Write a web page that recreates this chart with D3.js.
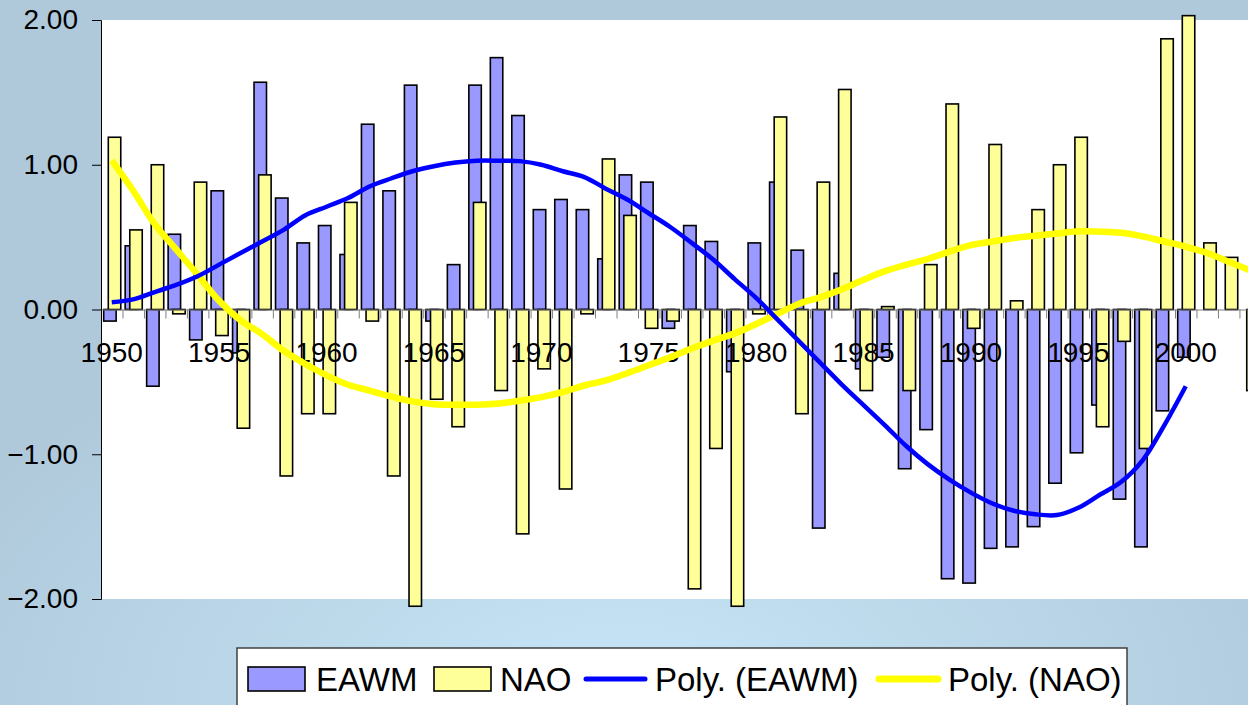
<!DOCTYPE html>
<html lang="en">
<head>
    <meta charset="UTF-8">
    <title>EAWM and NAO</title>
    <script src="https://cdn.jsdelivr.net/npm/d3@7/dist/d3.min.js"></script>
    <style>
        body { margin: 0; }
        svg { display: block; font-family: "Liberation Sans", Arial, sans-serif; }
        .axis text { font-size: 28px; fill: #000; }
        .legend text { font-size: 33px; fill: #000; }
    </style>
</head>
<body>
<svg id="chart"></svg>
<script>
// categories (years) and series values
const years = d3.range(1950, 2004);
const eawm = [-0.08, 0.44, -0.53, 0.52, -0.21, 0.82, -0.30, 1.57, 0.77, 0.46,
              0.58, 0.38, 1.28, 0.82, 1.55, -0.08, 0.31, 1.55, 1.74, 1.34,
              0.69, 0.76, 0.69, 0.35, 0.93, 0.88, -0.13, 0.58, 0.47, -0.43,
              0.46, 0.88, 0.41, -1.51, 0.25, -0.41, -0.33, -1.10, -0.83, -1.86,
              -1.89, -1.65, -1.64, -1.50, -1.20, -0.99, -0.66, -1.31, -1.64, -0.70,
              -0.33, null, null, null];
const nao = [1.19, 0.55, 1.00, -0.03, 0.88, -0.18, -0.82, 0.93, -1.15, -0.72,
             -0.72, 0.74, -0.08, -1.15, -2.05, -0.62, -0.81, 0.74, -0.56, -1.55,
             -0.41, -1.24, -0.03, 1.04, 0.65, -0.13, -0.08, -1.93, -0.96, -2.05,
             -0.03, 1.33, -0.72, 0.88, 1.52, -0.56, 0.02, -0.56, 0.31, 1.42,
             -0.13, 1.14, 0.06, 0.69, 1.00, 1.19, -0.81, -0.22, -0.96, 1.87,
             2.03, 0.46, 0.36, -0.56];
// polynomial trend lines at each year
const eawmTrend = [0.05, 0.07, 0.12, 0.17, 0.23, 0.31, 0.39, 0.47, 0.55, 0.65,
                   0.71, 0.77, 0.85, 0.905, 0.955, 0.99, 1.015, 1.028, 1.028, 1.025,
                   1.0, 0.955, 0.915, 0.835, 0.76, 0.665, 0.57, 0.46, 0.345, 0.21,
                   0.08, -0.07, -0.22, -0.37, -0.52, -0.66, -0.80, -0.945, -1.07, -1.175,
                   -1.265, -1.34, -1.39, -1.415, -1.42, -1.37, -1.28, -1.19, -1.04, -0.80,
                   -0.53];
const naoTrend = [1.03, 0.82, 0.59, 0.415, 0.24, 0.06, -0.075, -0.17, -0.285, -0.375,
                  -0.455, -0.52, -0.56, -0.60, -0.635, -0.655, -0.658, -0.658, -0.65, -0.63,
                  -0.605, -0.57, -0.525, -0.49, -0.44, -0.385, -0.33, -0.27, -0.215, -0.165,
                  -0.10, -0.03, 0.04, 0.085, 0.14, 0.205, 0.265, 0.31, 0.35, 0.40,
                  0.445, 0.47, 0.494, 0.51, 0.525, 0.54, 0.538, 0.53, 0.505, 0.47,
                  0.435, 0.39, 0.33, 0.27];
const yTicks = [-2, -1, 0, 1, 2];
const legendItems = ["EAWM", "NAO", "Poly. (EAWM)", "Poly. (NAO)"];

const W = 1248, H = 705;
const plot = { left: 101, top: 20, bottom: 599 };
const step = 21.48;

const svg = d3.select("#chart").attr("width", W).attr("height", H);

// background
const defs = svg.append("defs");
const grad = defs.append("radialGradient").attr("id", "bg")
    .attr("cx", "50%").attr("cy", "100%").attr("r", "60%");
grad.append("stop").attr("offset", "0%").attr("stop-color", "#c7e6f7");
grad.append("stop").attr("offset", "100%").attr("stop-color", "#afc9db");
svg.append("rect").attr("width", W).attr("height", H).attr("fill", "url(#bg)");
svg.append("rect")
    .attr("x", plot.left).attr("y", plot.top)
    .attr("width", W - plot.left).attr("height", plot.bottom - plot.top)
    .attr("fill", "#fff");

// scales
const x = d3.scaleBand()
    .domain(years)
    .range([plot.left, plot.left + step * years.length])
    .padding(0);
const xEdge = d3.scaleLinear()
    .domain([years[0], years[years.length - 1] + 1])
    .range([plot.left, plot.left + step * years.length]);
const y = d3.scaleLinear().domain([-2, 2]).range([plot.bottom, plot.top]);

const bw = x.bandwidth();
const barW = bw * 0.58;

function drawBars(values, cls, fill, offset) {
    svg.append("g").attr("class", cls)
        .selectAll("rect")
        .data(years.map((yr, i) => ({ yr, v: values[i] })).filter(d => d.v != null))
        .enter().append("rect")
        .attr("x", d => x(d.yr) + bw * offset)
        .attr("width", barW)
        .attr("y", d => y(Math.max(0, d.v)))
        .attr("height", d => Math.abs(y(d.v) - y(0)))
        .attr("fill", fill)
        .attr("stroke", "#000")
        .attr("stroke-width", 1.6);
}
drawBars(eawm, "eawm", "#9999ff", 0.125);
drawBars(nao, "nao", "#ffff99", 0.34);

// x axis: line and ticks at category edges, labels every 5 years
const xAxisG = svg.append("g").attr("class", "axis")
    .attr("transform", "translate(0," + y(0) + ")");
xAxisG.append("g")
    .call(d3.axisBottom(xEdge).tickValues(d3.range(1950, 2005)).tickSize(9).tickFormat(""))
    .call(g => g.selectAll("line").attr("stroke", "#808080"))
    .call(g => g.select(".domain").attr("stroke", "#808080"));
xAxisG.append("g")
    .call(d3.axisBottom(x).tickValues(years.filter(d => d % 5 === 0)).tickSize(0).tickPadding(33))
    .call(g => g.select(".domain").remove())
    .call(g => g.selectAll("text").attr("font-size", 28));

// y axis
svg.append("g").attr("class", "axis")
    .attr("transform", "translate(" + plot.left + ",0)")
    .call(d3.axisLeft(y).tickValues(yTicks).tickFormat(d3.format(".2f")).tickSize(9).tickPadding(14))
    .call(g => g.selectAll("text").attr("font-size", 28))
    .call(g => g.selectAll("line, .domain").attr("stroke", "#000"));

// trend lines
const line = d3.line()
    .x((d, i) => x(years[i]) + bw / 2)
    .y(d => y(d))
    .curve(d3.curveCatmullRom);
svg.append("path").datum(naoTrend)
    .attr("d", line).attr("fill", "none")
    .attr("stroke", "#ffff00").attr("stroke-width", 6.5);
svg.append("path").datum(eawmTrend)
    .attr("d", line).attr("fill", "none")
    .attr("stroke", "#0000ff").attr("stroke-width", 4.5);

// legend
const lg = svg.append("g").attr("class", "legend");
lg.append("rect")
    .attr("x", 237).attr("y", 648).attr("width", 890).attr("height", 80)
    .attr("fill", "#fff").attr("stroke", "#404040").attr("stroke-width", 1.5);
const ly = 679;
lg.append("rect").attr("x", 248).attr("y", ly - 12).attr("width", 57).attr("height", 24)
    .attr("fill", "#9999ff").attr("stroke", "#000").attr("stroke-width", 1.6);
lg.append("text").attr("x", 316).attr("y", ly + 12).text(legendItems[0]);
lg.append("rect").attr("x", 434).attr("y", ly - 12).attr("width", 57).attr("height", 24)
    .attr("fill", "#ffff99").attr("stroke", "#000").attr("stroke-width", 1.6);
lg.append("text").attr("x", 500).attr("y", ly + 12).text(legendItems[1]);
lg.append("line").attr("x1", 586).attr("x2", 645).attr("y1", ly).attr("y2", ly)
    .attr("stroke", "#0000ff").attr("stroke-width", 5).attr("stroke-linecap", "round");
lg.append("text").attr("x", 655).attr("y", ly + 12).text(legendItems[2]);
lg.append("line").attr("x1", 879).attr("x2", 938).attr("y1", ly).attr("y2", ly)
    .attr("stroke", "#ffff00").attr("stroke-width", 7).attr("stroke-linecap", "round");
lg.append("text").attr("x", 948).attr("y", ly + 12).text(legendItems[3]);
</script>
</body>
</html>
